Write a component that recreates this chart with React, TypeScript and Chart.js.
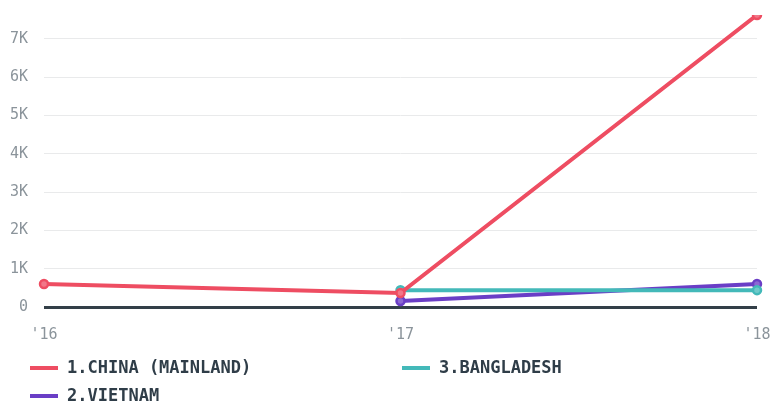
import React, { useEffect, useRef } from "react";
import { Chart, registerables } from "chart.js";

Chart.register(...registerables);

const categories = ["'16", "'17", "'18"];
const chinaValues = [600, 365, 7620];
const bangladeshValues = [null, 440, 440];
const vietnamValues = [null, 155, 600];
const yTickValues = [0, 1000, 2000, 3000, 4000, 5000, 6000, 7000];
const seriesNames = ["1.CHINA (MAINLAND)", "3.BANGLADESH", "2.VIETNAM"];
const seriesColors = ["#ee4d62", "#43b9b9", "#6a3ec6"];
const pointFills = ["#f27788", "#6fcaca", "#8c68d4"];
// legend grid slot (column,row) for each series
const legendSlots = [
  [0, 0],
  [1, 0],
  [0, 1],
];

const legendPlugin = {
  id: "gridLegend",
  afterDraw(chart: any) {
    const ctx = chart.ctx;
    ctx.save();
    chart.data.datasets.forEach((ds: any, i: number) => {
      const [col, row] = legendSlots[i];
      const x = 30 + col * 372;
      const y = 368 + row * 28;
      ctx.strokeStyle = ds.borderColor;
      ctx.lineWidth = 4;
      ctx.lineCap = "butt";
      ctx.beginPath();
      ctx.moveTo(x, y);
      ctx.lineTo(x + 28, y);
      ctx.stroke();
      ctx.fillStyle = "#2f3d48";
      ctx.font = "bold 17px 'DejaVu Sans Mono'";
      ctx.textBaseline = "middle";
      ctx.textAlign = "left";
      ctx.fillText(ds.label, x + 37, y + 1);
    });
    ctx.restore();
  },
};

export default function App() {
  const ref = useRef<HTMLCanvasElement | null>(null);
  useEffect(() => {
    document.body.style.margin = "0";
    const values = [chinaValues, bangladeshValues, vietnamValues];
    const chart = new Chart(ref.current as HTMLCanvasElement, {
      type: "line",
      data: {
        labels: categories,
        datasets: values.map((v, i) => ({
          label: seriesNames[i],
          data: v,
          borderColor: seriesColors[i],
          backgroundColor: seriesColors[i],
          pointBackgroundColor: pointFills[i],
          pointBorderColor: seriesColors[i],
          pointBorderWidth: 2.5,
          pointRadius: 4,
          borderWidth: 4,
          tension: 0,
          spanGaps: false,
        })),
      },
      options: {
        animation: false,
        responsive: false,
        layout: { padding: { top: 15, right: 13, bottom: 42, left: 0 } },
        plugins: { legend: { display: false }, tooltip: { enabled: false } },
        scales: {
          x: {
            offset: false,
            grid: { display: false, drawTicks: false },
            border: { display: false },
            ticks: {
              color: "#8b949b",
              font: { family: "'DejaVu Sans Mono'", size: 15 },
              padding: 19,
              maxRotation: 0,
              autoSkip: false,
            },
            afterFit: (scale: any) => {
              scale.paddingLeft = 0;
              scale.paddingRight = 0;
            },
          },
          y: {
            min: 0,
            max: 7620,
            grid: {
              drawTicks: false,
              color: (c: any) => (c.tick && c.tick.value === 0 ? "#333f48" : "#e9eaeb"),
              lineWidth: (c: any) => (c.tick && c.tick.value === 0 ? 3 : 1),
            },
            border: { display: false },
            ticks: {
              color: "#8b949b",
              font: { family: "'DejaVu Sans Mono'", size: 15 },
              padding: 16,
              callback: (v: any) => (v === 0 ? "0" : v / 1000 + "K"),
            },
            afterBuildTicks: (scale: any) => {
              scale.ticks = yTickValues.map((value) => ({ value }));
            },
            afterFit: (scale: any) => {
              scale.width = 44;
              scale.paddingTop = 0;
              scale.paddingBottom = 0;
            },
          },
        },
      },
      plugins: [legendPlugin],
    });
    return () => chart.destroy();
  }, []);
  return <canvas ref={ref} width={770} height={405} style={{ display: "block" }} />;
}
